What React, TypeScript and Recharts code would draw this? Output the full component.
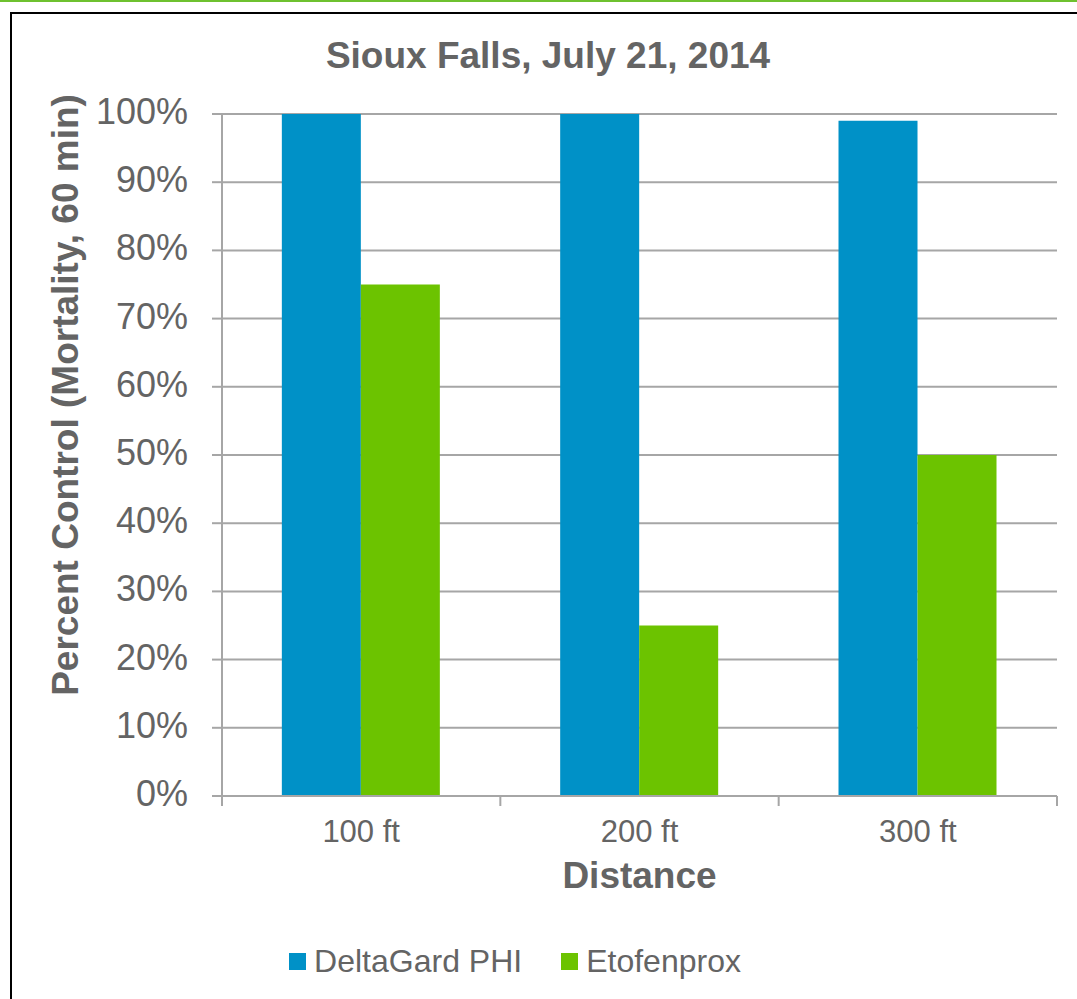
import React from 'react';
import { BarChart, Bar, XAxis, YAxis, CartesianGrid, Legend, Label } from 'recharts';

const categories = ['100 ft', '200 ft', '300 ft'];
const deltaGard = [1.0, 1.0, 0.99];
const etofenprox = [0.75, 0.25, 0.5];
const yTicks = [0, 0.1, 0.2, 0.3, 0.4, 0.5, 0.6, 0.7, 0.8, 0.9, 1.0];
const edgeTicks = [0, 1, 2, 3];
const seriesNames = ['DeltaGard PHI', 'Etofenprox'];
const seriesColors = ['#0091c7', '#6cc300'];
const title = 'Sioux Falls, July 21, 2014';
const yTitle = 'Percent Control (Mortality, 60 min)';
const xTitle = 'Distance';

const data = categories.map((c, i) => ({ name: c, idx: i + 0.5, a: deltaGard[i], b: etofenprox[i] }));

const FONT = '"Liberation Sans", Arial, Helvetica, sans-serif';
const TXT = '#646464';
const GRID = '#a6a6a6';

const YTick = (props: any) => {
  const { x, y, payload } = props;
  return (
    <text x={x} y={y} dy={10} textAnchor="end" fontFamily={FONT} fontSize={36} fill={TXT}>
      {`${Math.round(payload.value * 100)}%`}
    </text>
  );
};

const XTick = (props: any) => {
  const { x, payload } = props;
  return (
    <text x={x} y={842} textAnchor="middle" fontFamily={FONT} fontSize={31} fill={TXT}>
      {payload.value}
    </text>
  );
};

const EmptyTick = () => <g />;

const renderYLabel = () => (
  <text
    x={78}
    y={395}
    transform="rotate(-90, 78, 395)"
    textAnchor="middle"
    fontFamily={FONT}
    fontSize={37}
    fontWeight="bold"
    fill={TXT}
  >
    {yTitle}
  </text>
);

const renderXLabel = (props: any) => {
  const { viewBox } = props;
  const cx = viewBox ? viewBox.x + viewBox.width / 2 : 639.5;
  return (
    <text x={cx} y={888} textAnchor="middle" fontFamily={FONT} fontSize={37} fontWeight="bold" fill={TXT}>
      {xTitle}
    </text>
  );
};

const renderLegend = (props: any) => {
  const { payload } = props;
  return (
    <div
      style={{
        display: 'flex',
        justifyContent: 'center',
        alignItems: 'center',
        fontFamily: FONT,
        fontSize: 32,
        color: TXT,
        lineHeight: 'normal',
      }}
    >
      {(payload || []).map((e: any, i: number) => (
        <div key={i} style={{ display: 'flex', alignItems: 'center', marginLeft: i ? 39 : 0 }}>
          <span style={{ width: 17, height: 17, background: e.color, marginRight: 8, display: 'inline-block' }} />
          <span>{e.value}</span>
        </div>
      ))}
    </div>
  );
};

export default function App() {
  return (
    <div
      style={{
        position: 'fixed',
        left: 0,
        top: 0,
        width: 1077,
        height: 999,
        overflow: 'hidden',
        background: '#fff',
      }}
    >
      <div style={{ position: 'absolute', left: 0, top: 0, width: 1077, height: 2, background: '#6ec12f' }} />
      <div
        style={{
          position: 'absolute',
          left: 10,
          top: 12,
          width: 1200,
          height: 1200,
          border: '2.5px solid #000',
          boxSizing: 'border-box',
        }}
      />
      <div style={{ position: 'absolute', left: 0, top: 0 }}>
        <BarChart
          width={1077}
          height={999}
          data={data}
          margin={{ top: 114, right: 20, bottom: 172, left: 0 }}
          barCategoryGap="21.5%"
          barGap={0}
        >
          <CartesianGrid vertical={false} stroke={GRID} strokeWidth={2} xAxisId={1} />
          <XAxis
            xAxisId={0}
            type="number"
            dataKey="idx"
            domain={[0, 3]}
            ticks={edgeTicks}
            interval={0}
            tick={<EmptyTick />}
            tickSize={10}
            axisLine={{ stroke: GRID, strokeWidth: 2 }}
            tickLine={{ stroke: GRID, strokeWidth: 2 }}
            height={1}
            allowDataOverflow
          />
          <XAxis
            xAxisId={1}
            dataKey="name"
            height={30}
            tick={<XTick />}
            tickLine={false}
            axisLine={false}
            interval={0}
          >
            <Label content={renderXLabel} />
          </XAxis>
          <YAxis
            width={222}
            domain={[0, 1]}
            ticks={yTicks}
            interval={0}
            tick={<YTick />}
            tickSize={10}
            tickMargin={24}
            tickLine={{ stroke: GRID, strokeWidth: 2 }}
            axisLine={{ stroke: GRID, strokeWidth: 2 }}
          >
            <Label content={renderYLabel} />
          </YAxis>
          <Legend
            layout="horizontal"
            verticalAlign="middle"
            align="center"
            content={renderLegend}
            wrapperStyle={{ top: 943, left: 0, width: 1030, height: 40 }}
          />
          <Bar xAxisId={1} dataKey="a" name={seriesNames[0]} fill={seriesColors[0]} isAnimationActive={false} />
          <Bar xAxisId={1} dataKey="b" name={seriesNames[1]} fill={seriesColors[1]} isAnimationActive={false} />
        </BarChart>
      </div>
      <svg
        width={1077}
        height={120}
        style={{ position: 'absolute', left: 0, top: 0, pointerEvents: 'none' }}
      >
        <text x={548} y={68} textAnchor="middle" fontFamily={FONT} fontSize={37} fontWeight="bold" fill={TXT}>
          {title}
        </text>
      </svg>
    </div>
  );
}
